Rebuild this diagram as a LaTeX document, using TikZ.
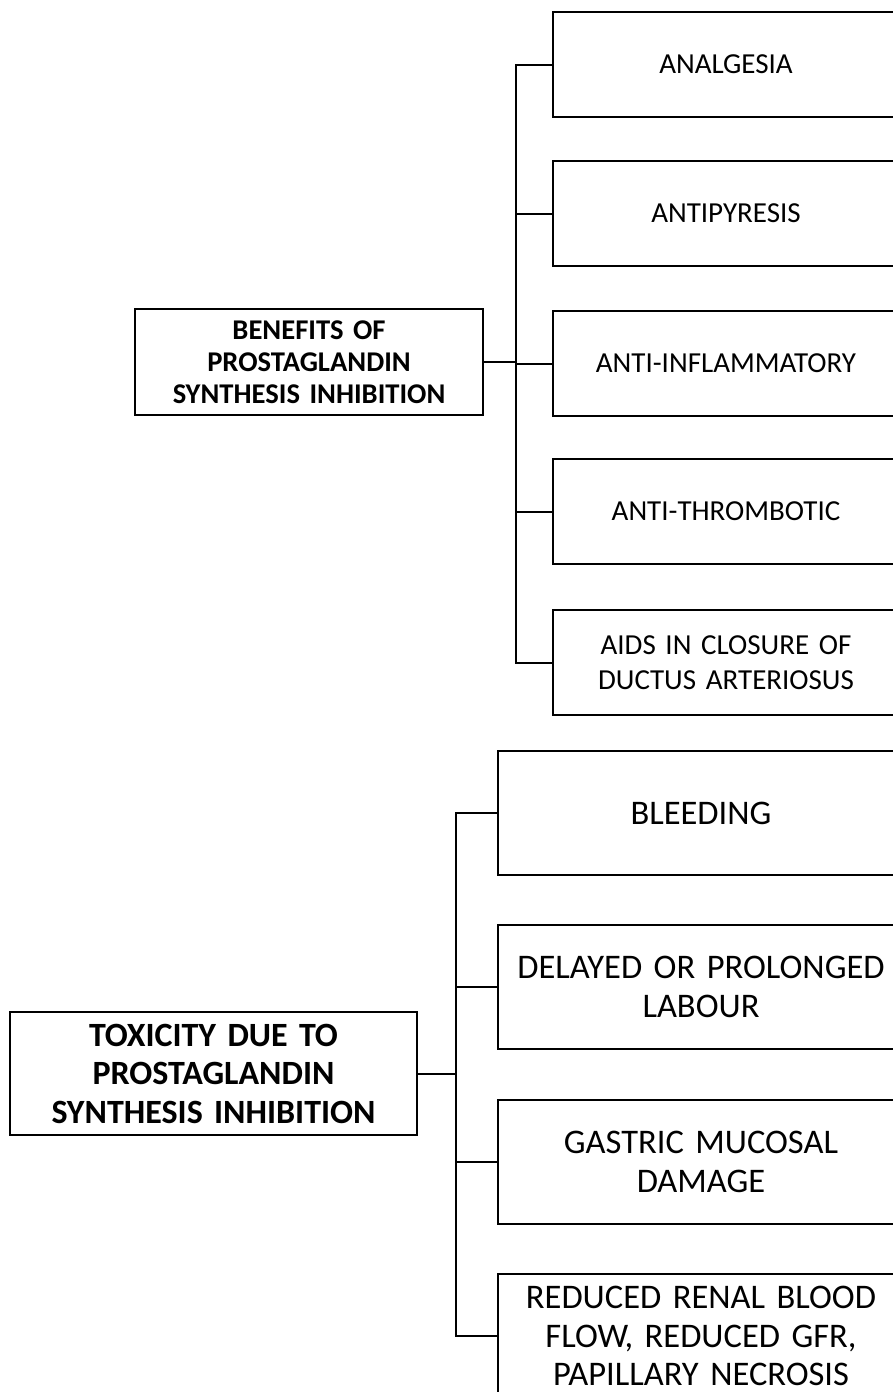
\documentclass[tikz,border=0pt]{standalone}
\usepackage{fontspec}
\setmainfont{Carlito}
\begin{document}
\begin{tikzpicture}[x=1pt,y=-1pt,
  box/.style={draw=black,line width=2pt,rectangle,inner sep=0pt,anchor=north west,align=center},
  topbox/.style={box,minimum width=346pt,minimum height=105pt,text width=330pt,font=\fontsize{29}{35}\selectfont},
  botbox/.style={box,minimum width=406pt,minimum height=124pt,text width=390pt,font=\fontsize{34.5}{38.5}\selectfont},
  headtop/.style={draw=black,line width=2pt,rectangle,inner sep=0pt,align=center,minimum width=348pt,minimum height=106pt,text width=340pt,font=\bfseries\fontsize{28.6}{32}\selectfont},
  headbot/.style={draw=black,line width=2pt,rectangle,inner sep=0pt,align=center,minimum width=407pt,minimum height=123pt,text width=400pt,font=\bfseries\fontsize{34}{38.5}\selectfont},
  conn/.style={draw=black,line width=2pt}]
\useasboundingbox (0,0) rectangle (893,1392);
\clip (0,0) rectangle (893,1392);
\fill[white] (0,0) rectangle (893,1392);
% top group
\node[headtop] (ben) at (309,362) {BENEFITS OF\\PROSTAGLANDIN\\SYNTHESIS INHIBITION};
\node[topbox] (a1) at (552,11) {ANALGESIA};
\node[topbox] (a2) at (552,160) {ANTIPYRESIS};
\node[topbox] (a3) at (552,310) {ANTI-INFLAMMATORY};
\node[topbox] (a4) at (552,458) {ANTI-THROMBOTIC};
\node[topbox] (a5) at (552,609) {AIDS IN CLOSURE OF\\DUCTUS ARTERIOSUS};
\coordinate (busA) at (516,362);
\draw[conn] (a1.west) -- ++(-36,0) |- (a5.west);
\foreach \i in {2,3,4} \draw[conn] (a\i.west) -- ++(-36,0);
\draw[conn] (ben.east) -- (busA);
% bottom group
\node[headbot] (tox) at (213.5,1073.5) {TOXICITY DUE TO\\PROSTAGLANDIN\\SYNTHESIS INHIBITION};
\node[botbox] (b1) at (497,750) {BLEEDING};
\node[botbox] (b2) at (497,924) {DELAYED OR PROLONGED\\LABOUR};
\node[botbox] (b3) at (497,1099) {GASTRIC MUCOSAL\\DAMAGE};
\node[botbox] (b4) at (497,1273) {REDUCED RENAL BLOOD\\FLOW, REDUCED GFR,\\PAPILLARY NECROSIS};
\coordinate (busB) at (456,1073.5);
\draw[conn] (b1.west) -- ++(-41,0) |- (b4.west);
\foreach \i in {2,3} \draw[conn] (b\i.west) -- ++(-41,0);
\draw[conn] (tox.east) -- (busB);
\end{tikzpicture}
\end{document}
